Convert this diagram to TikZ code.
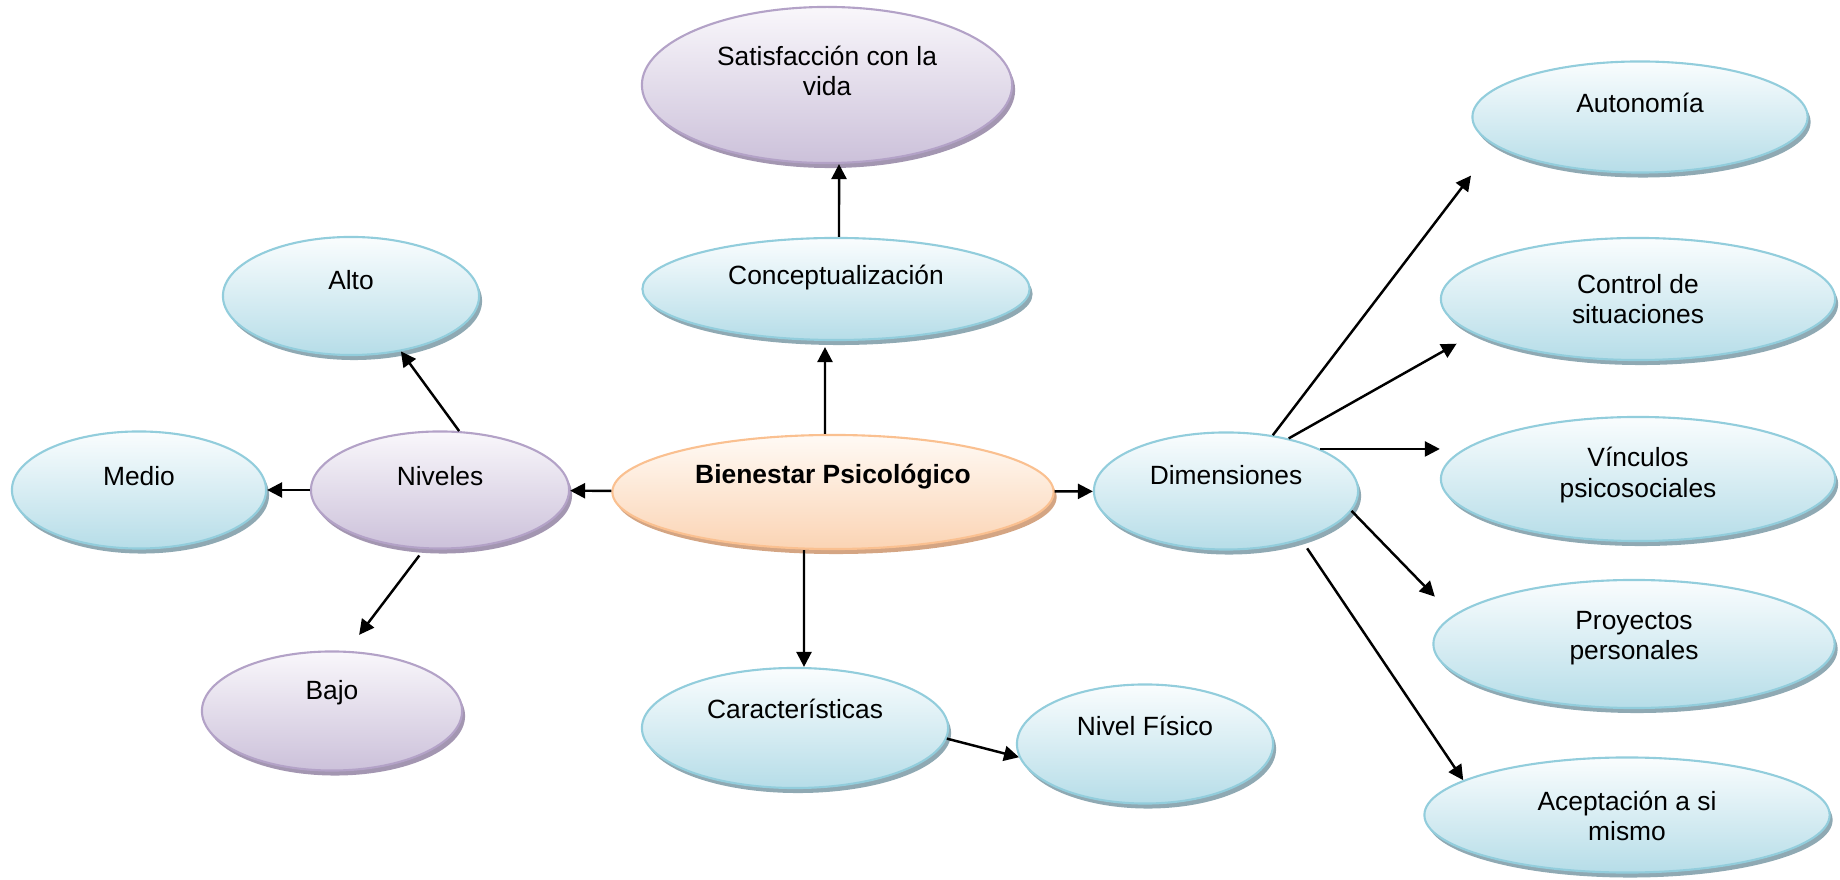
\documentclass[tikz,border=0pt]{standalone}
\usepackage{fontspec}
\setmainfont{Liberation Sans}
\usepackage{tikz}
\usetikzlibrary{shapes.geometric}
\usetikzlibrary{shadows}
\usetikzlibrary{arrows.meta}
\usetikzlibrary{calc}

\definecolor{bline}{HTML}{92CDDC}
\definecolor{btop}{HTML}{FAFDFE}
\definecolor{bbot}{HTML}{B6DDE8}
\definecolor{bshd}{HTML}{8FA9B3}
\definecolor{pline}{HTML}{B3A2C7}
\definecolor{ptop}{HTML}{F9F7FB}
\definecolor{pbot}{HTML}{CCC1DA}
\definecolor{pshd}{HTML}{A396B1}
\definecolor{oline}{HTML}{FAC090}
\definecolor{otop}{HTML}{FFFAF5}
\definecolor{obot}{HTML}{FBD4B4}
\definecolor{oshd}{HTML}{D4A583}

\tikzset{
  oval/.style={ellipse, inner sep=0pt, line width=0.6pt},
  ovalblue/.style={oval, draw=bline, top color=btop, bottom color=bbot,
    drop shadow={shadow xshift=0.03cm, shadow yshift=-0.05cm, fill=bshd, opacity=1}},
  ovalpurple/.style={oval, draw=pline, top color=ptop, bottom color=pbot,
    drop shadow={shadow xshift=0.03cm, shadow yshift=-0.05cm, fill=pshd, opacity=1}},
  ovalorange/.style={oval, draw=oline, top color=otop, bottom color=obot,
    drop shadow={shadow xshift=0.03cm, shadow yshift=-0.05cm, fill=oshd, opacity=1}},
  txt/.style={font=\fontsize{7.5}{8.6}\selectfont, align=center, text=black},
  arr/.style={-{Triangle[length=0.15cm,width=0.15cm]}, line width=0.7pt, black}
}

\begin{document}
\begin{tikzpicture}[x=0.01cm, y=-0.01cm]
      \useasboundingbox (0,0) rectangle (1840,880);

      % centre
      \node [ovalorange, minimum width=4.41cm, minimum height=1.14cm,
      label={[txt, yshift=0.15cm]center:\bfseries Bienestar Psicológico}] (bienestar) at (833,492) {};

      % arriba
      \node [ovalblue, minimum width=3.87cm, minimum height=1.02cm,
      label={[txt, yshift=0.11cm]center:Conceptualización}] (concepto) at (836,289) {};
      \node [ovalpurple, minimum width=3.70cm, minimum height=1.56cm,
      label={[txt, yshift=0.14cm]center:{Satisfacción con la\\vida}}] (satisf) at (827,85) {};

      % abajo
      \node [ovalblue, minimum width=3.06cm, minimum height=1.20cm,
      label={[txt, yshift=0.19cm]center:Características}] (caract) at (795,728) {};
      \node [ovalblue, minimum width=2.56cm, minimum height=1.19cm,
      label={[txt, yshift=0.18cm]center:Nivel Físico}] (fisico) at (1145,744) {};

      % izquierda
      \node [ovalpurple, minimum width=2.58cm, minimum height=1.17cm,
      label={[txt, yshift=0.14cm]center:Niveles}] (niveles) at (440,490) {};
      \node [ovalblue, minimum width=2.54cm, minimum height=1.17cm,
      label={[txt, yshift=0.14cm]center:Medio}] (medio) at (139,490) {};
      \node [ovalblue, minimum width=2.56cm, minimum height=1.18cm,
      label={[txt, yshift=0.16cm]center:Alto}] (alto) at (351,296) {};
      \node [ovalpurple, minimum width=2.60cm, minimum height=1.19cm,
      label={[txt, yshift=0.18cm]center:Bajo}] (bajo) at (332,711) {};

      % derecha
      \node [ovalblue, minimum width=2.64cm, minimum height=1.17cm,
      label={[txt, yshift=0.16cm]center:Dimensiones}] (dimen) at (1226,491) {};
      \node [ovalblue, minimum width=3.35cm, minimum height=1.11cm,
      label={[txt, yshift=0.14cm]center:Autonomía}] (autonom) at (1640,117) {};
      \node [ovalblue, minimum width=3.94cm, minimum height=1.22cm,
      label={[txt, yshift=0.00cm]center:{Control de\\situaciones}}] (control) at (1638,299) {};
      \node [ovalblue, minimum width=3.94cm, minimum height=1.24cm,
      label={[txt, yshift=0.04cm]center:{Vínculos\\psicosociales}}] (vinculos) at (1638,479) {};
      \node [ovalblue, minimum width=4.01cm, minimum height=1.28cm,
      label={[txt, yshift=0.06cm]center:{Proyectos\\personales}}] (proyectos) at (1634,644) {};
      \node [ovalblue, minimum width=4.05cm, minimum height=1.15cm,
      label={[txt, yshift=-0.01cm]center:{Aceptación a si\\mismo}}] (acept) at (1627,815) {};

      % flechas
      \draw [arr, shorten >=0.06cm] ([xshift=-0.08cm]bienestar.north) -- ([xshift=-0.11cm]concepto.south);
      \draw [arr] ([xshift=0.03cm]concepto.north) -- ([xshift=0.12cm]satisf.south);
      \draw [arr] ([xshift=-0.29cm]bienestar.south) -- ([xshift=0.09cm]caract.north);
      \draw [arr] (caract.-4) -- (fisico.186);

      \draw [arr] (bienestar) -- (dimen);
      \draw [arr] (bienestar) -- (niveles);
      \draw [arr] (niveles) -- (medio);
      \draw [arr] (niveles.72) -- (alto.-48);
      \draw [arr, shorten <=0.08cm, shorten >=0.2cm] (niveles.-105) -- (bajo.76);

      \draw [arr, shorten >=0.38cm] (dimen.50) -- (autonom.191);
      \draw [arr, shorten >=0.2cm] (dimen.40) -- (control.192);
      \draw [arr] (dimen.24) -- (dimen.24 -| vinculos.west);
      \draw [arr, shorten >=0.26cm] (dimen.-9) -- (proyectos.171);
      \draw [arr, shorten <=0.1cm] (dimen.-33) -- (acept.168);
    \end{tikzpicture}
\end{document}
